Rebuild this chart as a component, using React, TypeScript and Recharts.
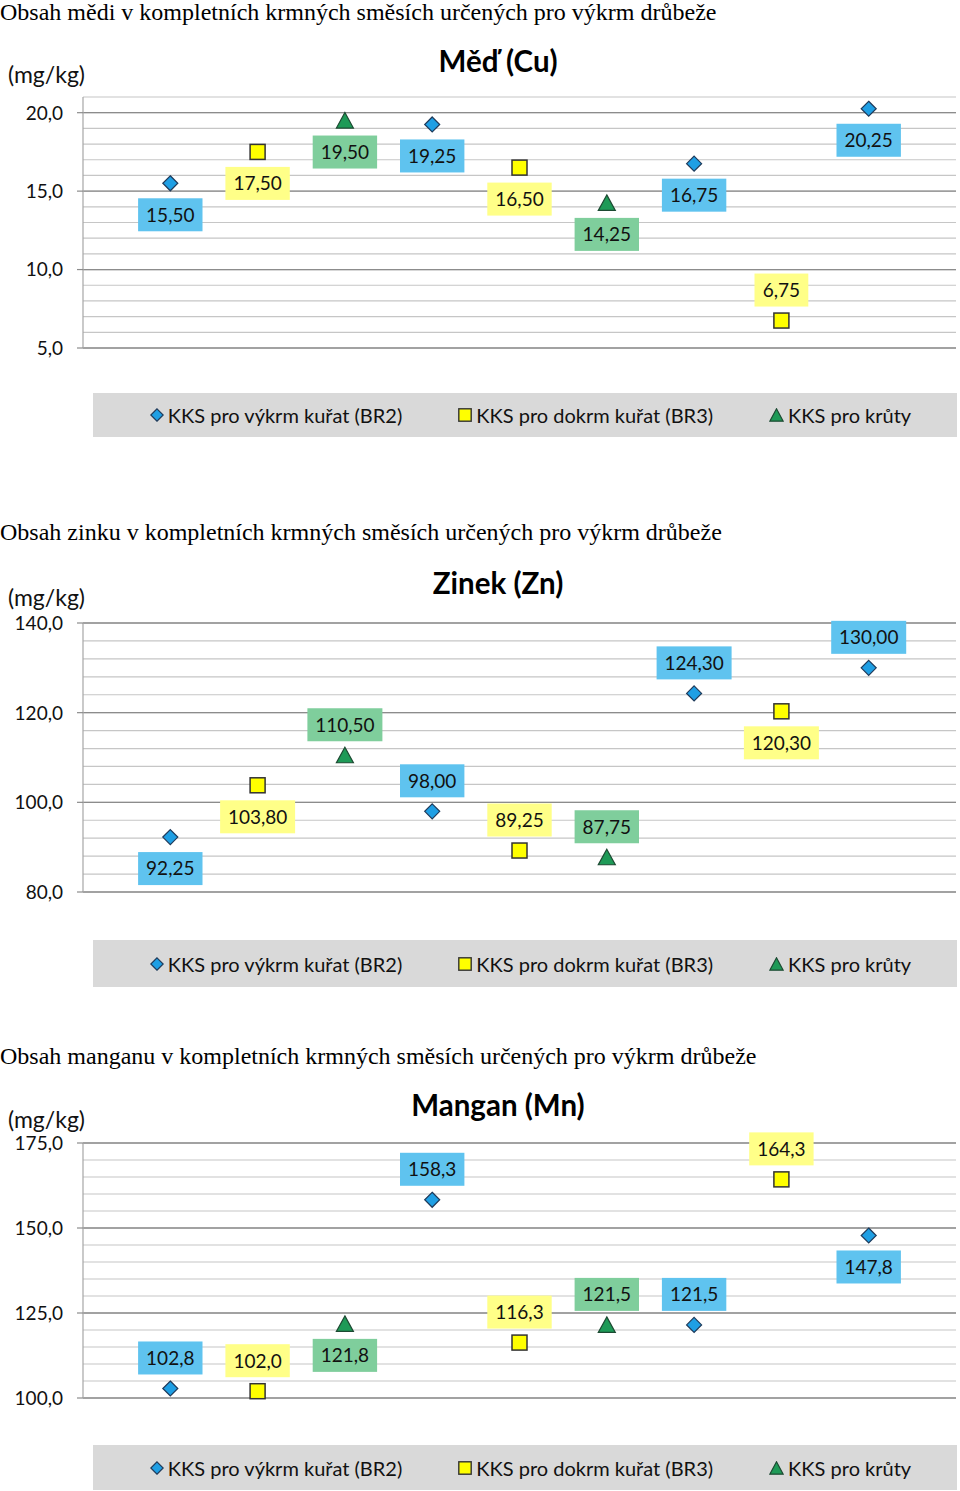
import React from "react";
import {
  ScatterChart,
  Scatter,
  XAxis,
  YAxis,
  CartesianGrid,
  ReferenceLine,
  Legend,
} from "recharts";

// ---------- data ----------
const slots = [1, 2, 3, 4, 5, 6, 7, 8, 9];
const seriesNames = [
  "KKS pro výkrm kuřat (BR2)",
  "KKS pro dokrm kuřat (BR3)",
  "KKS pro krůty",
];

const cuTitle = "Měď (Cu)";
const cuHeading = "Obsah mědi v kompletních krmných směsích určených pro výkrm drůbeže";
const cuBR2 = [15.5, null, null, 19.25, null, null, 16.75, null, 20.25];
const cuBR3 = [null, 17.5, null, null, 16.5, null, null, 6.75, null];
const cuKruty = [null, null, 19.5, null, null, 14.25, null, null, null];
const cuSide = ["below", "below", "below", "below", "below", "below", "below", "above", "below"];
const cuTicks = [5, 6, 7, 8, 9, 10, 11, 12, 13, 14, 15, 16, 17, 18, 19, 20, 21];
const cuMajor = [5, 10, 15, 20];

const znTitle = "Zinek (Zn)";
const znHeading = "Obsah zinku v kompletních krmných směsích určených pro výkrm drůbeže";
const znBR2 = [92.25, null, null, 98.0, null, null, 124.3, null, 130.0];
const znBR3 = [null, 103.8, null, null, 89.25, null, null, 120.3, null];
const znKruty = [null, null, 110.5, null, null, 87.75, null, null, null];
const znSide = ["below", "below", "above", "above", "above", "above", "above", "below", "above"];
const znTicks = [80, 84, 88, 92, 96, 100, 104, 108, 112, 116, 120, 124, 128, 132, 136, 140];
const znMajor = [80, 100, 120, 140];

const mnTitle = "Mangan (Mn)";
const mnHeading = "Obsah manganu v kompletních krmných směsích určených pro výkrm drůbeže";
const mnBR2 = [102.8, null, null, 158.3, null, null, 121.5, null, 147.8];
const mnBR3 = [null, 102.0, null, null, 116.3, null, null, 164.3, null];
const mnKruty = [null, null, 121.8, null, null, 121.5, null, null, null];
const mnSide = ["above", "above", "below", "above", "above", "above", "above", "above", "below"];
const mnTicks = [100, 105, 110, 115, 120, 125, 130, 135, 140, 145, 150, 155, 160, 165, 170, 175];
const mnMajor = [100, 125, 150, 175];

// ---------- styles ----------
const SANS = "Lato, 'Open Sans', sans-serif";
const SERIF = "'Liberation Serif', 'Times New Roman', serif";
const markerFill = ["#1f9fe4", "#ffff00", "#1e9a57"];
const markerStroke = ["#1f3a5a", "#333333", "#1c4a32"];
const labelFill = ["#5fc3ef", "#ffff88", "#7fce9c"];
const textColor = "#111111";

type Row = { x: number; y: number; side: string };

function buildRows(values: (number | null)[], sides: string[]): Row[] {
  const out: Row[] = [];
  values.forEach((v, i) => {
    if (v !== null) out.push({ x: slots[i], y: v, side: sides[i] });
  });
  return out;
}

function fmt(v: number, dec: number) {
  return v.toFixed(dec).replace(".", ",");
}

function MarkerPath({ kind, cx, cy }: { kind: number; cx: number; cy: number }) {
  if (kind === 0) {
    const r = 7.5;
    return (
      <polygon
        points={`${cx},${cy - r} ${cx + r},${cy} ${cx},${cy + r} ${cx - r},${cy}`}
        fill={markerFill[0]}
        stroke={markerStroke[0]}
        strokeWidth={1.2}
      />
    );
  }
  if (kind === 1) {
    return (
      <rect
        x={cx - 7.5}
        y={cy - 7.5}
        width={15}
        height={15}
        fill={markerFill[1]}
        stroke={markerStroke[1]}
        strokeWidth={1.5}
      />
    );
  }
  return (
    <polygon
      points={`${cx},${cy - 8} ${cx + 8.5},${cy + 7.5} ${cx - 8.5},${cy + 7.5}`}
      fill={markerFill[2]}
      stroke={markerStroke[2]}
      strokeWidth={1.2}
    />
  );
}

function PointShape(props: any) {
  const { cx, cy, payload, kind, dec } = props;
  if (cx == null || cy == null || !payload) return null;
  const text = fmt(payload.y, dec);
  let digits = 0;
  let commas = 0;
  for (const ch of text) {
    if (ch === ",") commas++;
    else digits++;
  }
  const w = digits * 10.6 + commas * 5 + 17;
  const h = 33;
  const top = payload.side === "above" ? cy - 14 - h : cy + 15;
  return (
    <g>
      <MarkerPath kind={kind} cx={cx} cy={cy} />
      <rect x={cx - w / 2} y={top} width={w} height={h} fill={labelFill[kind]} />
      <text
        x={cx}
        y={top + h / 2}
        dy="0.36em"
        textAnchor="middle"
        fontFamily={SANS}
        fontSize={19}
        fill={textColor}
      >
        {text}
      </text>
    </g>
  );
}

function AxisTick(props: any) {
  const { x, y, payload, majors, dec } = props;
  const v = payload.value;
  if (!majors.includes(v)) return <g />;
  return (
    <g>
      <line x1={x + 14} x2={x + 20} y1={y} y2={y} stroke="#8c8c8c" strokeWidth={1.2} />
      <text
        x={x}
        y={y}
        dy="0.36em"
        textAnchor="end"
        fontFamily={SANS}
        fontSize={19}
        fill={textColor}
      >
        {fmt(v, dec)}
      </text>
    </g>
  );
}

function LegendMarker({ kind }: { kind: number }) {
  if (kind === 0)
    return (
      <svg width={14} height={14} style={{ marginRight: 4 }}>
        <polygon points="7,0.8 13.2,7 7,13.2 0.8,7" fill={markerFill[0]} stroke={markerStroke[0]} strokeWidth={1.2} />
      </svg>
    );
  if (kind === 1)
    return (
      <svg width={14} height={14} style={{ marginRight: 4 }}>
        <rect x={0.8} y={0.8} width={12.4} height={12.4} fill={markerFill[1]} stroke={markerStroke[1]} strokeWidth={1.4} />
      </svg>
    );
  return (
    <svg width={15} height={14} style={{ marginRight: 4 }}>
      <polygon points="7.5,0.8 14.2,13.2 0.8,13.2" fill={markerFill[2]} stroke={markerStroke[2]} strokeWidth={1.2} />
    </svg>
  );
}

function LegendBox({ gap, boxH }: { gap: number; boxH: number }) {
  return (
    <div style={{ paddingTop: gap, width: 960 }}>
      <div
        style={{
          marginLeft: 93,
          width: 864,
          height: boxH,
          background: "#d9d9d9",
          display: "flex",
          alignItems: "center",
          justifyContent: "center",
          fontFamily: SANS,
          fontSize: 20,
          color: textColor,
          boxSizing: "border-box",
          paddingLeft: 11,
        }}
      >
        {seriesNames.map((n, i) => (
          <div
            key={n}
            style={{ display: "flex", alignItems: "center", marginLeft: i === 0 ? 0 : 56 }}
          >
            <LegendMarker kind={i} />
            <span>{n}</span>
          </div>
        ))}
      </div>
    </div>
  );
}

type PanelProps = {
  top: number;
  marginTop: number;
  height: number;
  gap: number;
  boxH: number;
  heading: string;
  headingTop: number;
  title: string;
  titleY: number;
  unitY: number;
  br2: (number | null)[];
  br3: (number | null)[];
  kruty: (number | null)[];
  sides: string[];
  ticks: number[];
  majors: number[];
  dec: number;
  tickDec: number;
};

function Panel(p: PanelProps) {
  const series = [p.br2, p.br3, p.kruty];
  const domain = [p.ticks[0], p.ticks[p.ticks.length - 1]];
  return (
    <>
      <div
        style={{
          position: "absolute",
          left: 0,
          top: p.headingTop,
          fontFamily: SERIF,
          fontSize: 24,
          lineHeight: "24px",
          color: "#000",
          whiteSpace: "nowrap",
        }}
      >
        {p.heading}
      </div>
      <div
        style={{
          position: "absolute",
          left: 0,
          width: 996,
          top: p.titleY - 20,
          height: 40,
          lineHeight: "40px",
          textAlign: "center",
          fontFamily: SANS,
          fontWeight: 700,
          fontSize: 29.5,
          color: "#000",
        }}
      >
        {p.title}
      </div>
      <div
        style={{
          position: "absolute",
          left: 8,
          top: p.unitY - 15,
          height: 30,
          lineHeight: "30px",
          fontFamily: SANS,
          fontSize: 23,
          color: textColor,
        }}
      >
        (mg/kg)
      </div>
      <div style={{ position: "absolute", left: 0, top: p.top, width: 960, height: p.height }}>
        <ScatterChart
          width={960}
          height={p.height}
          margin={{ top: p.marginTop, right: 4, bottom: 0, left: 0 }}
        >
          <CartesianGrid vertical={false} stroke="#c6c6c6" strokeWidth={1.2} />
          <XAxis type="number" dataKey="x" domain={[0, 10]} hide />
          <YAxis
            type="number"
            dataKey="y"
            domain={domain}
            ticks={p.ticks}
            interval={0}
            width={83}
            tickSize={6}
            tickMargin={14}
            tickLine={false}
            axisLine={{ stroke: "#a6a6a6", strokeWidth: 1.2 }}
            tick={<AxisTick majors={p.majors} dec={p.tickDec} />}
          />
          {p.majors.map((m) => (
            <ReferenceLine key={m} y={m} stroke="#8c8c8c" strokeWidth={1.3} />
          ))}
          <Legend
            verticalAlign="bottom"
            wrapperStyle={{ left: 0, width: 960 }}
            content={() => <LegendBox gap={p.gap} boxH={p.boxH} />}
          />
          {series.map((vals, k) => (
            <Scatter
              key={k}
              name={seriesNames[k]}
              data={buildRows(vals, p.sides)}
              isAnimationActive={false}
              shape={(sp: any) => <PointShape {...sp} kind={k} dec={p.dec} />}
            />
          ))}
        </ScatterChart>
      </div>
    </>
  );
}

export default function App() {
  return (
    <div
      style={{
        position: "absolute",
        left: 0,
        top: 0,
        width: 960,
        height: 1491,
        background: "#fff",
      }}
    >
      <Panel
        top={30}
        marginTop={67}
        height={407}
        gap={45}
        boxH={44}
        heading={cuHeading}
        headingTop={0}
        title={cuTitle}
        titleY={61}
        unitY={74}
        br2={cuBR2}
        br3={cuBR3}
        kruty={cuKruty}
        sides={cuSide}
        ticks={cuTicks}
        majors={cuMajor}
        dec={2}
        tickDec={1}
      />
      <Panel
        top={550}
        marginTop={73}
        height={437}
        gap={48}
        boxH={47}
        heading={znHeading}
        headingTop={520}
        title={znTitle}
        titleY={583}
        unitY={597}
        br2={znBR2}
        br3={znBR3}
        kruty={znKruty}
        sides={znSide}
        ticks={znTicks}
        majors={znMajor}
        dec={2}
        tickDec={1}
      />
      <Panel
        top={1080}
        marginTop={63}
        height={410}
        gap={47}
        boxH={45}
        heading={mnHeading}
        headingTop={1044}
        title={mnTitle}
        titleY={1105}
        unitY={1119}
        br2={mnBR2}
        br3={mnBR3}
        kruty={mnKruty}
        sides={mnSide}
        ticks={mnTicks}
        majors={mnMajor}
        dec={1}
        tickDec={1}
      />
    </div>
  );
}
